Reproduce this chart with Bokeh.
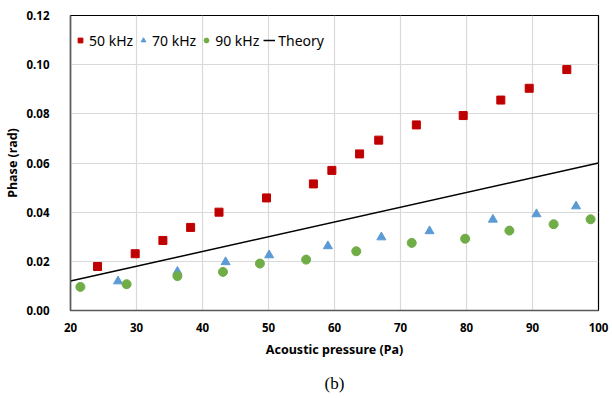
from bokeh.plotting import figure
from bokeh.models import Range1d, NumeralTickFormatter, FixedTicker, Legend, LegendItem, Title
from bokeh.embed import file_html
from bokeh.resources import INLINE

p50_x = [24.1, 29.8, 34.0, 38.2, 42.5, 49.7, 56.8, 59.6, 63.8, 66.7, 72.4, 79.5, 85.2, 89.5, 95.2]
p50_y = [0.0179, 0.0231, 0.0285, 0.0338, 0.0400, 0.0458, 0.0515, 0.0570, 0.0637, 0.0693, 0.0755, 0.0793, 0.0856, 0.0904, 0.0980]
p70_x = [27.2, 36.2, 43.5, 50.1, 59.0, 67.1, 74.4, 84.0, 90.6, 96.6]
p70_y = [0.0119, 0.0158, 0.0197, 0.0225, 0.0262, 0.0298, 0.0323, 0.0370, 0.0392, 0.0424]
p90_x = [21.5, 28.5, 36.2, 43.1, 48.7, 55.7, 63.3, 71.7, 79.8, 86.5, 93.2, 98.8]
p90_y = [0.0096, 0.0107, 0.0140, 0.0157, 0.0191, 0.0207, 0.0241, 0.0275, 0.0292, 0.0325, 0.0351, 0.0371]
theory_x = [20, 100]
theory_y = [0.012, 0.060]

x_ticks = [20, 30, 40, 50, 60, 70, 80, 90, 100]
y_ticks = [0.0, 0.02, 0.04, 0.06, 0.08, 0.10, 0.12]

FONT = "Noto Sans"

p = figure(frame_width=528, frame_height=295, output_backend="svg", toolbar_location=None,
           x_range=Range1d(20, 100), y_range=Range1d(0, 0.12),
           min_border_left=69, min_border_right=14, min_border_top=15, min_border_bottom=2)

p.outline_line_color = "black"
p.outline_line_width = 1.2

for ax in (p.xaxis[0], p.yaxis[0]):
    ax.axis_line_color = "#595959"
    ax.axis_line_width = 1.5
    ax.major_tick_line_color = None
    ax.minor_tick_line_color = None
    ax.major_label_text_font = FONT
    ax.major_label_text_font_style = "bold"
    ax.major_label_text_font_size = "11.5px"
    ax.major_label_text_color = "#000000"
    ax.axis_label_text_font = FONT
    ax.axis_label_text_font_style = "bold"
    ax.axis_label_text_font_size = "12.5px"
    ax.axis_label_text_color = "#000000"

p.xaxis.ticker = FixedTicker(ticks=x_ticks)
p.yaxis.ticker = FixedTicker(ticks=y_ticks)
p.yaxis.formatter = NumeralTickFormatter(format="0.00")
p.xaxis.axis_label = "Acoustic pressure (Pa)"
p.yaxis.axis_label = "Phase (rad)"
p.xaxis.major_label_standoff = 6
p.yaxis.major_label_standoff = 15
p.xaxis.axis_label_standoff = 6
p.yaxis.axis_label_standoff = 3

p.xgrid.ticker = FixedTicker(ticks=x_ticks)
p.ygrid.ticker = FixedTicker(ticks=y_ticks)
p.xgrid.grid_line_color = "#D9D9D9"
p.ygrid.grid_line_color = "#D9D9D9"
p.xgrid.grid_line_width = 1.2
p.ygrid.grid_line_width = 1.2

r_theory = p.line(theory_x, theory_y, line_color="black", line_width=1.5)
r50 = p.scatter(p50_x, p50_y, marker="square", size=8, fill_color="#C00000", line_color="#C00000")
r70 = p.scatter(p70_x, p70_y, marker="triangle", size=9, fill_color="#5B9BD5", line_color="#5B9BD5")
r90 = p.scatter(p90_x, p90_y, marker="circle", size=9, fill_color="#70AD47", line_color="#70AD47")

legend = Legend(items=[LegendItem(label="50 kHz", renderers=[r50]),
                       LegendItem(label="70 kHz", renderers=[r70]),
                       LegendItem(label="90 kHz", renderers=[r90]),
                       LegendItem(label="Theory", renderers=[r_theory])],
                orientation="horizontal", location=(4, 260),
                label_text_font=FONT, label_text_font_size="14px", label_text_color="#000000",
                border_line_color=None, background_fill_alpha=0,
                glyph_width=12, label_standoff=3, spacing=4, padding=0, margin=0)
p.add_layout(legend, "center")

cap = Title(text="(b)", align="center", text_font="Liberation Serif", text_font_size="17px",
            text_font_style="normal", text_color="#000000", standoff=22)
p.add_layout(cap, "below")

open("out.html", "w").write(file_html(p, INLINE))
